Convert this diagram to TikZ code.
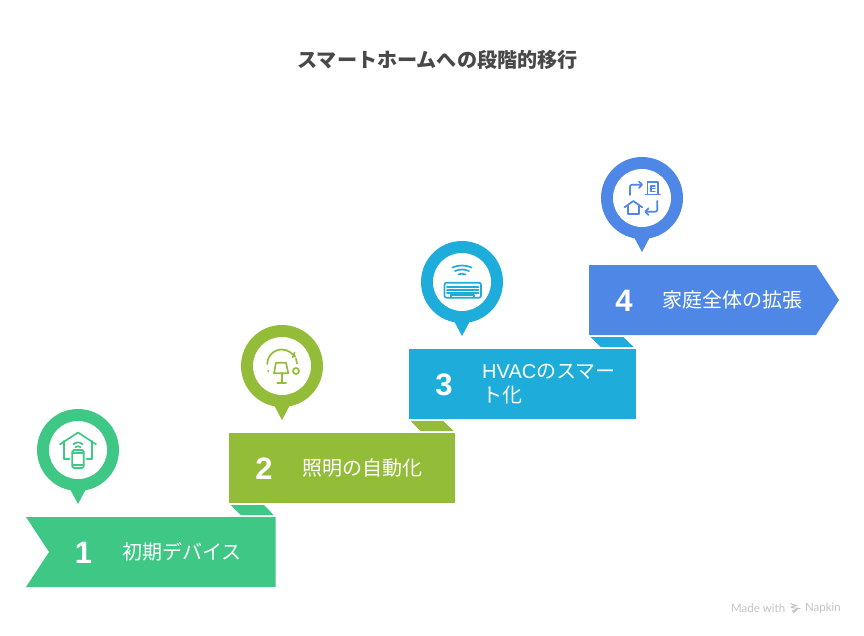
\documentclass[tikz,border=0pt]{standalone}
\usepackage{fontspec}
\setmainfont{Noto Sans CJK JP}
\newfontfamily\numfont{Liberation Sans}
\newfontfamily\markfont{Lato}
\definecolor{cgreen}{HTML}{3EC785}
\definecolor{colive}{HTML}{93BD39}
\definecolor{cblue}{HTML}{1EACDB}
\definecolor{croyal}{HTML}{4E87E6}
\definecolor{ctitle}{HTML}{484848}
\definecolor{cmark}{HTML}{C4C4C4}
\tikzset{
  titletext/.style={text=ctitle,font=\fontsize{20.1}{24}\selectfont\bfseries,inner sep=0pt},
  numtext/.style={text=white,font=\fontsize{31}{31}\selectfont\numfont\bfseries,inner sep=0pt},
  labeltext/.style={text=white,font=\fontsize{20}{24}\selectfont,inner sep=0pt,anchor=west,align=left},
  marktext/.style={text=cmark,font=\fontsize{11.5}{12}\selectfont\markfont,inner sep=0pt},
  icon/.style={draw=#1,line width=1.7pt,fill=none,line cap=round,line join=round},
}
\newcommand{\pinshape}[4]{% x, y, colour, name
  \fill[#3] (#1-8,#2+39) -- (#1,#2+54) -- (#1+8,#2+39) -- cycle;
  \fill[#3] (#1,#2) circle[radius=41];
  \fill[white] (#1,#2) circle[radius=29];
  \coordinate (#4) at (#1,#2);
}
\begin{document}
\begin{tikzpicture}[x=1pt,y=-1pt]
\useasboundingbox (0,0) rectangle (864,636);
\fill[white] (0,0) rectangle (864,636);

\node[titletext] (title) at (437.5,60) {スマートホームへの段階的移行};

% folds
\fill[cgreen] (230.7,505) -- (264,505) -- (273.6,515) -- (240.7,515) -- cycle;
\fill[colive] (410.7,421) -- (443.3,421) -- (453.6,431) -- (420.7,431) -- cycle;
\fill[cblue] (590.7,337) -- (623.3,337) -- (633.6,347) -- (600.7,347) -- cycle;

% bands
\fill[cgreen] (26,517) -- (275.5,517) -- (275.5,587) -- (26,587) -- (49,552) -- cycle;
\fill[colive] (229,433) rectangle (455,503);
\fill[cblue] (409,349) rectangle (635.5,419);
\fill[croyal] (589,265) -- (816,265) -- (839,300) -- (816,335) -- (589,335) -- cycle;

% numbers and labels
\node[numtext] (n1) at (83.5,552.5) {1};
\node[numtext] (n2) at (264,468.5) {2};
\node[numtext] (n3) at (444,384.5) {3};
\node[numtext] (n4) at (624,300.5) {4};
\node[labeltext] (l1) at (122,552) {初期デバイス};
\node[labeltext] (l2) at (302,468) {照明の自動化};
\node[labeltext] (l3) at (482,384) {{\numfont HVAC}のスマー\\ト化};
\node[labeltext] (l4) at (662,300) {家庭全体の拡張};

% pins
\pinshape{78}{450}{cgreen}{p1}
\pinshape{282}{366}{colive}{p2}
\pinshape{462}{282}{cblue}{p3}
\pinshape{642}{198}{croyal}{p4}

% icon 1: house with phone
\draw[icon=cgreen] (60,444.3) -- (78,432.5) -- (96,444.3);
\draw[icon=cgreen] (64.3,441) -- (64.3,459.3) -- (69.3,459.3);
\draw[icon=cgreen] (91.7,441) -- (91.7,459.3) -- (86.7,459.3);
\draw[icon=cgreen,rounded corners=1.5pt] (72.3,450) rectangle (83.7,468);
\draw[icon=cgreen] (72.5,453) -- (83.5,453);
\draw[icon=cgreen] (72.5,465) -- (83.5,465);
\draw[icon=cgreen] (73.5,444.2) .. controls (76,441.8) and (80,441.8) .. (82.5,444.2);
\draw[icon=cgreen] (75.5,447.2) .. controls (77,445.8) and (79,445.8) .. (80.5,447.2);

% icon 2: lamp
\draw[icon=colive] (267.3,364) arc[start angle=180,end angle=308,radius=14.5];
\draw[icon=colive] (296,358.5) -- (297,363.5);
\draw[icon=colive] (291,353) -- (295.5,356.8);
\draw[icon=colive] (294.5,352.6) -- (292.8,357.2);
\draw[icon=colive] (276,362.7) -- (286,362.7) -- (288.3,373.3) -- (274,373.3) -- cycle;
\draw[icon=colive] (281.7,373.3) -- (281.7,383);
\draw[icon=colive] (277.3,383) -- (286,383);
\draw[icon=colive] (296,371) circle[radius=3];
\fill[colive] (268.3,371) circle[radius=1.1];

% icon 3: air conditioner
\draw[icon=cblue] (452.5,267.5) .. controls (458,264.8) and (466,264.8) .. (471.5,267.5);
\draw[icon=cblue] (455,271) .. controls (459,269) and (465,269) .. (469,271);
\draw[icon=cblue] (458.5,274.5) .. controls (460.5,273.4) and (463.5,273.4) .. (465.5,274.5);
\draw[icon=cblue,rounded corners=2pt] (444.5,282.7) rectangle (481,297.7);
\draw[icon=cblue] (447,286.7) -- (478.5,286.7);
\draw[icon=cblue] (447,290) -- (478.5,290);
\draw[icon=cblue] (447,293.3) -- (478.5,293.3);
\draw[icon=cblue] (450.7,297.7) -- (450.7,295.3) -- (474,295.3) -- (474,297.7);

% icon 4: move between home and building
\draw[icon=croyal,rounded corners=2pt] (630,195) -- (630,184.7) -- (641.5,184.7);
\draw[icon=croyal] (639,181.5) -- (642,184.7) -- (639,187.9);
\draw[icon=croyal] (647.5,194.3) -- (647.5,182.3) -- (658,182.3) -- (658,194.3);
\draw[icon=croyal] (645.5,194.5) -- (660,194.5);
\draw[icon=croyal,line width=1.2pt] (655,186) -- (651,186) -- (651,191.5) -- (655,191.5);
\draw[icon=croyal,line width=1.2pt] (651,188.7) -- (655,188.7);
\draw[icon=croyal] (624.5,207.3) -- (633.3,201) -- (642.2,207.3);
\draw[icon=croyal] (627.7,206) -- (627.7,214.3) -- (639,214.3) -- (639,206);
\draw[icon=croyal,rounded corners=2pt] (657.3,201) -- (657.3,211.7) -- (646,211.7);
\draw[icon=croyal] (648.5,208.3) -- (645.2,211.7) -- (648.5,215);

% watermark
\node[marktext,anchor=west] (made) at (731,608) {Made with};
\node[marktext,anchor=east] (napkin) at (841,608) {Napkin};
\draw[cmark,line width=1pt] (790.5,603.5) -- (796,605.5) -- (791,607);
\draw[cmark,line width=1pt] (791,607.5) -- (799,608.5) -- (792,611);
\draw[cmark,line width=1pt] (792,611) -- (796,610.5) -- (793,613);
\end{tikzpicture}
\end{document}
